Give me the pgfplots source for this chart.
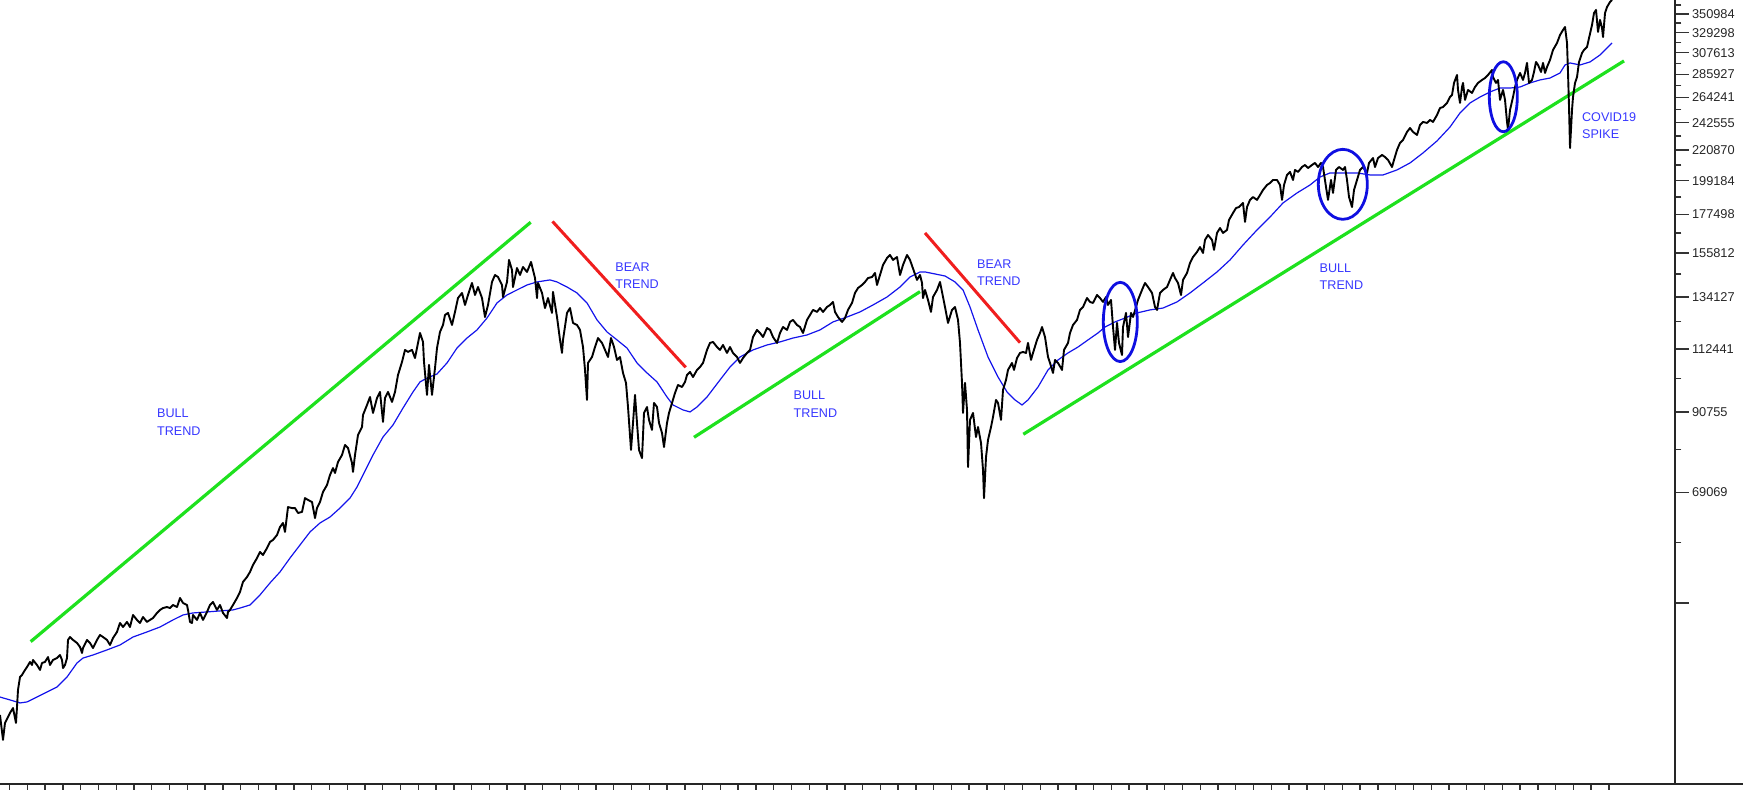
\documentclass[border=0pt]{standalone}
\usepackage{pgfplots}
\pgfplotsset{compat=1.18}
\usepackage{fontspec}
\setmainfont{Liberation Sans}
\definecolor{trendgreen}{RGB}{30,225,30}
\definecolor{trendred}{RGB}{240,30,30}
\definecolor{mablue}{RGB}{20,20,235}
\definecolor{txtblue}{RGB}{55,55,255}
\definecolor{circblue}{RGB}{15,15,225}
\begin{document}
\begin{tikzpicture}
\begin{axis}[
  at={(0,0)}, anchor=south west,
  scale only axis, width=837.5pt, height=392pt,
  xmin=0, xmax=1675, ymin=25620, ymax=368090,
  ymode=log,
  axis x line*=bottom, axis y line*=right,
  axis line style={-, line width=1pt, black!85},
  tick align=outside,
  xtick={9.6,27.37,...,1609},
  xticklabel=\empty,
  ytick={47383,69069,90755,112441,134127,155812,177498,199184,220870,242555,264241,285927,307613,329298,350984},
  yticklabels={,69069,90755,112441,134127,155812,177498,199184,220870,242555,264241,285927,307613,329298,350984},
  minor ytick={58226,79912,101598,123284,144969,166655,188341,210027,231712,253398,275084,296770,318455,340141,361827},
  major tick length=6.8pt, minor tick length=3.2pt,
  tick style={line width=0.7pt, black!80},
  yticklabel style={font=\fontsize{6.4}{7}\selectfont, text=black!85, anchor=west, inner sep=0pt, xshift=1.5pt},
]
% trend lines
\addplot[trendgreen, line width=1.6pt] coordinates {(30.7,41560)(530.7,172896)};
\addplot[trendgreen, line width=1.6pt] coordinates {(694,83230)(920,136565)};
\addplot[trendgreen, line width=1.6pt] coordinates {(1023.3,84100)(1624,299161)};
\addplot[trendred, line width=1.5pt] coordinates {(552.5,173370)(685.7,105588)};
\addplot[trendred, line width=1.5pt] coordinates {(925,166715)(1020,114826)};
% moving average
\addplot[mablue, line width=0.6pt] coordinates {
(0,34428)(10,34089)(20,33741)(27,33857)(37,34428)(47,35028)(57,35619)(67,36853)(77,38655)(83,39308)(93,39719)(107,40404)(120,41091)(133,42217)(147,42952)(160,43677)(173,44741)(183,45503)(193,45817)(207,45974)(220,46131)(233,46288)(240,46585)(250,47074)(260,48705)(270,50736)(280,52670)(290,55216)(300,57723)(310,60339)(320,62211)(330,63479)(340,65443)(350,67705)(357,70292)(363,73232)(373,78383)(383,83317)(393,86798)(403,91941)(413,97113)(420,100469)(427,101807)(437,103231)(447,107170)(457,112738)(467,116633)(477,119897)(487,124844)(497,131416)(507,135024)(517,137359)(527,139693)(537,141142)(550,142108)(557,141142)(567,138727)(577,135958)(587,131416)(597,124043)(607,119081)(617,115890)(627,112738)(637,107170)(647,103587)(657,100469)(667,95453)(673,92904)(683,91351)(690,90729)(697,92262)(707,95453)(720,101157)(730,105698)(740,109350)(753,112017)(767,113920)(780,115102)(793,116633)(807,117857)(820,119897)(833,123199)(847,125280)(860,127460)(873,130514)(887,134090)(900,138727)(910,143522)(920,146022)(925,146022)(935,145022)(945,144022)(955,141142)(963,137359)(970,129612)(978,119897)(988,109350)(998,102163)(1007,97113)(1015,94509)(1022,92904)(1028,94509)(1038,98749)(1048,104655)(1058,108274)(1068,110874)(1078,113132)(1088,115890)(1098,118673)(1105,121089)(1115,123199)(1125,124844)(1137,127024)(1150,128332)(1163,129161)(1177,131867)(1190,135958)(1203,140659)(1217,146022)(1230,152105)(1243,160035)(1257,168434)(1270,175992)(1283,184614)(1297,190997)(1310,196242)(1320,201626)(1330,204434)(1343,204434)(1357,204434)(1370,203030)(1383,203030)(1397,206540)(1410,211500)(1423,218813)(1437,227934)(1450,238977)(1460,250682)(1470,259348)(1480,264627)(1490,269237)(1500,272821)(1510,272821)(1520,273775)(1530,277591)(1540,280453)(1550,282254)(1560,287189)(1565,295077)(1570,297119)(1580,295077)(1590,298140)(1600,305281)(1612,318023)
};
% price
\addplot[black, line width=0.95pt, line join=round] coordinates {
(0,32390)(3,29756)(5,31525)(10,32614)(13,33161)(16,31525)(17,33277)(18,35268)(20,36853)(22,37109)(25,37749)(27,38123)(30,38788)(32,38389)(33,39054)(37,38389)(40,37749)(42,38655)(45,38788)(48,39445)(50,38389)(53,39054)(57,39308)(60,39719)(62,39054)(63,37990)(65,38389)(67,39308)(68,41801)(70,42217)(73,41801)(77,41375)(80,40807)(82,39993)(83,40665)(87,41801)(90,41375)(93,40665)(97,41801)(100,42511)(103,42217)(107,41801)(110,41091)(113,42070)(117,42952)(120,44285)(123,43677)(127,44437)(130,43677)(133,45503)(137,44741)(140,44285)(143,45189)(147,44437)(150,44741)(153,45032)(157,45817)(160,46288)(163,46585)(167,46748)(170,46585)(173,47074)(177,46748)(180,48201)(183,47400)(187,47074)(188,46288)(190,44437)(192,44285)(193,45503)(197,44741)(200,45817)(203,44741)(207,45974)(210,47074)(213,47563)(217,46288)(220,47074)(223,45817)(227,45032)(228,45974)(230,46288)(233,47074)(237,48201)(240,49209)
(243,50910)(247,51770)(250,52670)(253,53928)(257,55216)(260,56374)(263,55795)(267,57123)(270,58323)(273,58723)(277,59718)(280,61355)(283,62211)(285,60339)(288,65672)(292,65443)(295,65443)(298,64363)(302,64584)(305,67705)(308,67275)(312,66817)(315,63258)(317,65443)(320,66817)(323,69127)(327,70782)(330,73232)(333,74977)(335,73738)(338,76549)(342,78383)(345,81095)(348,80255)(352,76287)(353,73991)(355,78383)(358,83897)(362,86198)(363,89796)(367,92904)(370,95453)(373,90418)(377,95121)(380,97113)(383,87698)(385,95121)(388,97113)(392,93867)(395,97113)(398,102875)(402,107538)(405,112017)(408,111255)(412,112017)(415,108969)(418,114708)(420,118673)(423,115102)(424,107538)(427,96117)(429,106434)(432,96117)(435,105330)(437,112738)(440,119081)(443,121933)(445,126152)(448,127024)(452,121933)(455,127460)(458,133623)(462,135958)(465,130514)(468,135024)(472,140659)(475,135024)(478,138727)(482,133623)(485,125280)(488,130514)(492,141142)(495,144522)(498,143522)(502,139693)(503,134090)(507,141142)(509,152105)(512,147022)(513,138727)(517,147969)(520,144522)(523,148486)(527,146022)(531,151071)
(535,143022)(537,133623)(538,140659)(542,135958)(545,129161)(548,133623)(552,127024)(553,136425)(557,125280)(560,115890)(562,110874)(563,115890)(567,127024)(570,129161)(573,122777)(577,121933)(580,119897)(583,113132)(585,104655)(587,94509)(588,107170)(592,109350)(595,113132)(598,116633)(602,114708)(605,112017)(608,109350)(611,116633)(614,113132)(617,108274)(620,109350)(623,103587)(626,100125)(628,92262)(631,79738)(633,87398)(635,96117)(637,87398)(639,79738)(642,77570)(644,90418)(647,92262)(649,88298)(652,85347)(654,93546)(657,92262)(659,87398)(662,84477)(664,80535)(667,87398)(669,90418)(672,93546)(675,96781)(678,99437)(682,98749)(685,100469)(687,102875)(690,103943)(693,102163)(697,104655)(700,105698)(703,107170)(707,112017)(710,114708)(713,115102)(717,113132)(720,112017)(723,113920)(727,110874)(730,113132)(733,110874)(737,109350)(740,107170)(743,108969)(747,110874)(750,112017)(753,117041)(757,119897)(760,118673)(763,117041)(767,120667)(770,119897)(773,117041)(777,114708)(780,118673)(783,121089)(787,119897)(790,123199)(793,124043)(797,121933)(800,121089)(803,118673)(807,124043)(810,126152)(813,128332)(817,127460)(820,129161)(823,127460)(827,129612)(830,130514)(833,131867)(835,127460)(838,125280)(842,123199)(845,124844)(848,128332)(852,131416)(855,135958)(858,138244)(862,139693)(865,141142)(868,143022)(872,143522)(875,145522)(877,139693)(880,144522)(883,149520)(887,153084)(890,154689)(893,152105)(897,153619)(900,144522)(903,149520)(907,154689)(910,152105)
(917,142108)(920,144522)(922,140659)(923,133623)(925,137359)(928,132769)(931,127460)(933,134090)(937,137359)(940,141142)(942,136425)(945,129612)(948,122777)(952,128332)(955,129612)(958,124043)(960,114708)(962,100125)(963,90418)(965,100125)(967,91351)(968,75239)(970,88298)(973,90418)(976,83317)(978,86198)(981,81655)(983,74497)(984,67705)(986,77841)(988,82495)(991,86198)(993,89174)(996,94509)(998,93546)(1001,88298)(1003,97777)(1006,101157)(1008,104655)(1012,107170)(1014,104655)(1017,108969)(1020,110874)(1023,111255)(1026,110874)(1028,114708)(1031,108274)(1033,110874)(1037,115890)(1040,118673)(1042,121089)(1045,117041)(1048,109350)(1050,107170)(1053,103587)(1055,108274)(1058,107170)(1062,104655)(1064,112017)(1068,114708)(1070,118673)(1073,121933)(1077,124043)(1080,128332)(1083,129612)(1087,133623)(1090,131867)(1093,131416)(1097,135024)(1100,133623)(1103,131867)(1106,134090)(1108,130514)(1111,132769)
(1113,121089)(1115,112017)(1117,122777)(1119,114708)(1122,110112)(1123,121089)(1126,127024)(1128,117041)(1131,127024)(1133,125280)(1136,129612)(1138,132769)(1142,137359)(1145,140659)(1148,138727)(1152,135958)(1155,129612)(1157,128332)(1160,135958)(1163,137359)(1167,138727)(1170,142108)(1173,145522)(1175,143022)(1178,140659)(1181,135024)(1183,142108)(1187,145522)(1190,150554)(1193,153619)(1197,156294)(1200,158927)(1203,155759)(1205,162805)(1208,165569)(1212,162805)(1214,157364)(1217,166715)(1220,169522)(1223,166715)(1227,168434)(1229,174258)(1233,178444)(1236,181444)(1239,182078)(1243,184614)(1245,173074)(1247,182078)(1250,186516)(1253,188373)(1257,186516)(1260,189685)(1263,192965)(1267,196242)(1270,197600)(1273,199637)(1277,199637)(1280,196242)(1282,186516)(1284,196242)(1287,203030)(1290,205136)(1293,199637)(1295,206540)(1298,205136)(1302,208592)(1305,210046)(1308,207865)(1312,210046)(1315,211500)(1318,208592)(1321,211500)(1323,208592)(1326,194884)(1328,186516)(1331,199637)(1333,190997)(1336,206540)(1339,208592)(1343,206540)(1345,208592)(1347,199637)(1349,188373)(1352,182078)(1354,192965)(1357,199637)(1360,206540)(1363,208592)(1367,204434)(1369,211500)(1373,215053)(1375,208592)(1378,215053)(1382,217309)(1385,215805)(1388,213681)(1392,208592)(1394,213681)(1397,221069)(1400,226378)(1403,228712)(1407,235010)(1410,238145)(1413,235010)(1417,232595)(1420,240641)(1423,243137)(1427,242305)(1430,244801)(1433,243137)(1437,248960)(1440,254893)(1443,255784)(1447,259348)(1450,264627)
(1452,266471)(1454,277591)(1457,285215)(1458,271081)(1460,259348)(1462,273775)(1463,277591)(1465,262021)(1468,271081)(1472,268315)(1475,273775)(1478,277591)(1482,280453)(1485,282254)(1488,285215)(1492,290150)(1493,283241)(1496,277591)(1498,280453)(1500,262021)(1503,271081)(1505,262021)(1507,243137)(1508,236620)(1510,253265)(1513,264627)(1515,273775)(1517,280453)(1520,287189)(1523,280453)(1525,287189)(1527,297119)(1529,277591)(1532,280453)(1534,288176)(1536,298140)(1538,295077)(1541,288176)(1543,297119)(1545,287189)(1547,293035)(1550,300182)(1553,310561)(1557,318023)(1560,326755)(1563,332405)(1565,335714)(1567,318023)(1568,287189)(1569,255784)(1570,222488)(1572,253265)(1573,264627)(1575,277591)(1577,283241)(1579,298140)(1582,307393)(1584,310561)(1587,313655)(1589,323365)(1592,338052)(1594,352160)(1596,355790)(1598,330145)(1600,343897)(1602,334545)(1603,324495)(1605,352160)(1607,359333)(1610,365588)(1612,368090)
};
% ellipse centres
\coordinate (e1) at (axis cs:1120.3,123199);
\coordinate (e2) at (axis cs:1342.8,196717);
\coordinate (e3) at (axis cs:1503.3,264904);
% labels
\begin{scope}[every node/.style={anchor=west, inner sep=0pt, text=txtblue, font=\fontsize{6.3}{7}\selectfont}]
\node at (axis cs:156.7,90263) {BULL};
\node at (axis cs:156.7,84970) {TREND};
\node at (axis cs:615,148641) {BEAR};
\node at (axis cs:615,140031) {TREND};
\node at (axis cs:976.7,150037) {BEAR};
\node at (axis cs:976.7,141287) {TREND};
\node at (axis cs:793.3,96117) {BULL};
\node at (axis cs:793.3,90325) {TREND};
\node at (axis cs:1319.3,148124) {BULL};
\node at (axis cs:1319.3,139693) {TREND};
\node at (axis cs:1581.7,247496) {COVID19};
\node at (axis cs:1581.7,233400) {SPIKE};
\end{scope}
\end{axis}
\draw[circblue, line width=1.4pt] (e1) ellipse [x radius=8.5pt, y radius=19.8pt];
\draw[circblue, line width=1.4pt] (e2) ellipse [x radius=12.25pt, y radius=17.5pt];
\draw[circblue, line width=1.4pt] (e3) ellipse [x radius=7pt, y radius=17.5pt];
\draw[line width=1pt, black!85] (0,0) -- (871.5pt,0);
\pgfresetboundingbox
\path[use as bounding box] (0,-3pt) rectangle (871.5pt,392pt);
\end{tikzpicture}
\end{document}
